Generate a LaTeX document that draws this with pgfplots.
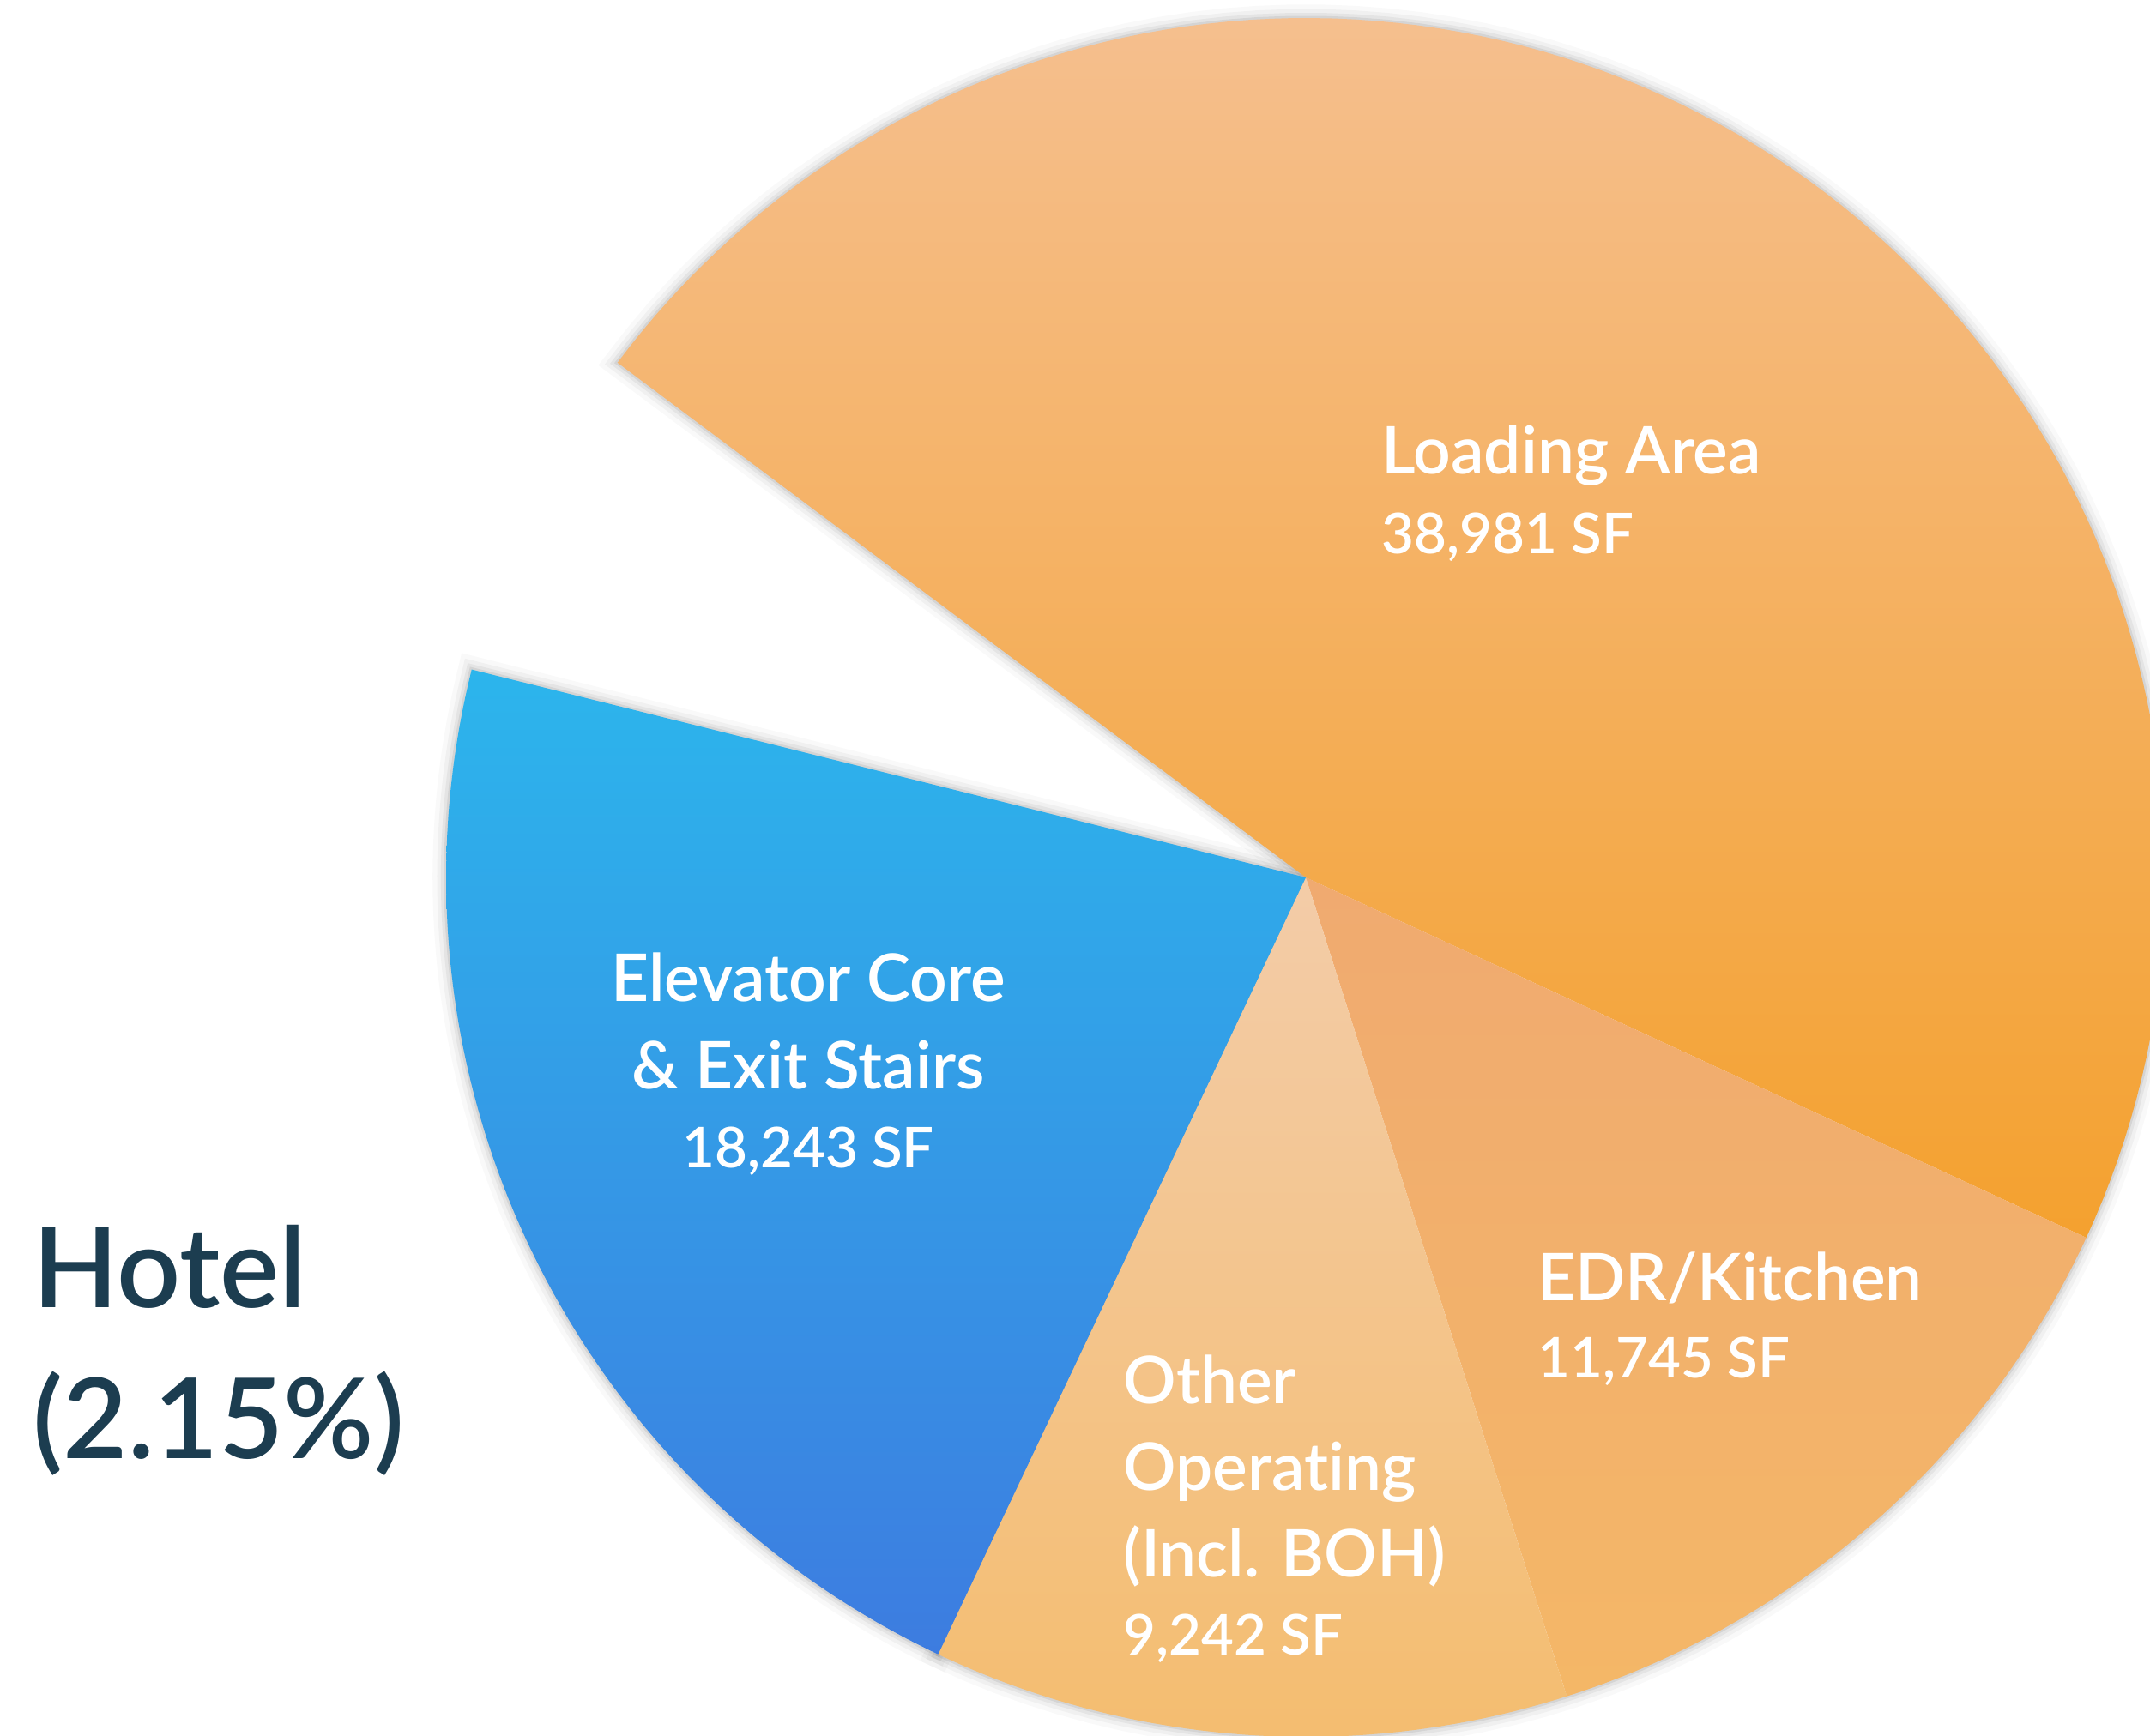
\documentclass[border=0pt]{standalone}
\usepackage{pgfplots}
\pgfplotsset{compat=1.18}
\usepackage{fontspec}
\setmainfont{Lato}[UprightFont=* Semibold, Ligatures=NoCommon]
\definecolor{loadTop}{HTML}{F5BF8E}
\definecolor{loadBot}{HTML}{F4A12F}
\definecolor{elevTop}{HTML}{2CB5EC}
\definecolor{elevBot}{HTML}{3D7CE0}
\definecolor{edrTop}{HTML}{F0AA70}
\definecolor{edrBot}{HTML}{F4B767}
\definecolor{othTop}{HTML}{F3CCA8}
\definecolor{othBot}{HTML}{F4BD70}
\definecolor{hotel}{HTML}{1C3D50}
% Slice values (SF) and the angles (deg) at which they are drawn
% Loading Area 38981 : -24.78 .. 143.2
% EDR/Kitchen  11745 : -72.32 .. -24.78
% Other Operating 9242 : -115.32 .. -72.32
% Elevator Core & Exit Stairs 18243 : 166.0 .. 244.68
\newcommand{\pcx}{1522}
\newcommand{\pcy}{1000}
\newcommand{\pR}{1002}
\newcommand{\pieslice}[3]{% options, start, end
  \addplot[#1, domain=#2:#3, samples=120, variable=\t]
    ({\pcx+\pR*cos(t)},{\pcy+\pR*sin(t)}) -- (axis cs:\pcx,\pcy) -- cycle;}
\begin{document}
\begin{tikzpicture}
\begin{axis}[
  x=0.1mm, y=0.1mm,
  xmin=0, xmax=2506, ymin=0, ymax=2023,
  hide axis, clip=true,
  every node/.style={inner sep=0pt, outer sep=0pt},
]
% soft shadow
\foreach \w/\o in {9/0.025, 6/0.035, 3.5/0.05, 1.5/0.07}{
  \edef\tmp{\noexpand\pieslice{draw=black, draw opacity=\o, line width=\w pt, fill=none}{-115.32}{143.2}}\tmp
  \edef\tmp{\noexpand\pieslice{draw=black, draw opacity=\o, line width=\w pt, fill=none}{166.0}{244.68}}\tmp
}
\pieslice{draw=none, shading=axis, top color=loadTop, bottom color=loadBot}{-24.78}{143.2}
\pieslice{draw=none, shading=axis, top color=edrTop, bottom color=edrBot}{-72.32}{-24.78}
\pieslice{draw=none, shading=axis, top color=othTop, bottom color=othBot}{-115.32}{-72.32}
\pieslice{draw=none, shading=axis, top color=elevTop, bottom color=elevBot}{166.0}{244.68}
% labels
\node[anchor=base west, text=white, font=\fontsize{21.8}{26}\selectfont] at (axis cs:1598,1470) {Loading Area};
\node[anchor=base west, text=white, font=\fontsize{18.6}{22}\selectfont] at (axis cs:1598,1377) {38,981 SF};
\node[anchor=base, text=white, font=\fontsize{21.8}{26}\selectfont] at (axis cs:942,856) {Elevator Core};
\node[anchor=base, text=white, font=\fontsize{21.8}{26}\selectfont] at (axis cs:942,754) {\& Exit Stairs};
\node[anchor=base, text=white, font=\fontsize{18.6}{22}\selectfont] at (axis cs:942,662) {18,243 SF};
\node[anchor=base west, text=white, font=\fontsize{21.8}{26}\selectfont] at (axis cs:1780,507) {EDR/Kitchen};
\node[anchor=base west, text=white, font=\fontsize{18.6}{22}\selectfont] at (axis cs:1780,417) {11,745 SF};
\node[anchor=base west, text=white, font=\fontsize{21.8}{26}\selectfont] at (axis cs:1297,387) {Other};
\node[anchor=base west, text=white, font=\fontsize{21.8}{26}\selectfont] at (axis cs:1297,286) {Operating};
\node[anchor=base west, text=white, font=\fontsize{21.8}{26}\selectfont] at (axis cs:1297,185) {(Incl. BOH)};
\node[anchor=base west, text=white, font=\fontsize{18.6}{22}\selectfont] at (axis cs:1297,94) {9,242 SF};
\node[anchor=base west, text=hotel, font=\fontsize{37}{44}\selectfont] at (axis cs:26,499) {Hotel};
\node[anchor=base west, text=hotel, font=\fontsize{37}{44}\selectfont] at (axis cs:26,323) {(2.15\%)};
\end{axis}
\pgfresetboundingbox
\path[use as bounding box] (current axis.south west) rectangle (current axis.north east);
\end{tikzpicture}
\end{document}
